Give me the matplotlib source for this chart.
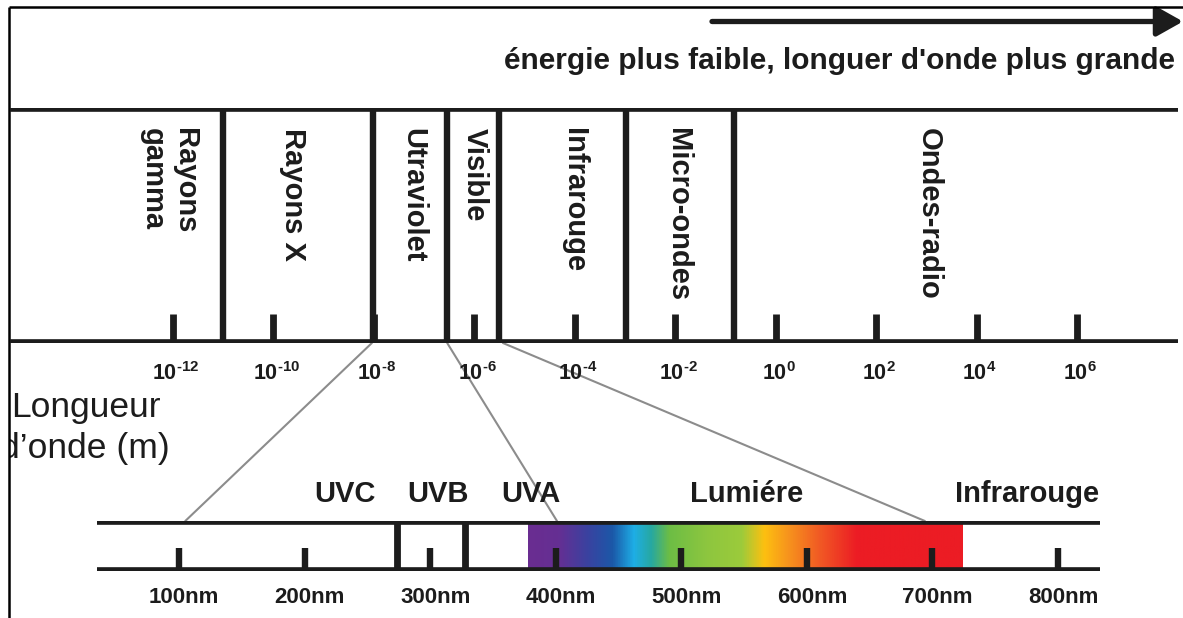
#!/usr/bin/env python3
"""Spectre electromagnetique: echelle des longueurs d'onde avec zoom sur UV / visible."""

import matplotlib
matplotlib.use("Agg")
import numpy as np
import matplotlib.pyplot as plt
import matplotlib.transforms as mtransforms
from matplotlib.colors import LinearSegmentedColormap
from matplotlib.patches import ConnectionPatch, Rectangle

# ---------------- data ----------------
# upper scale: log10 of the wavelength in metres
top_exponents = [-12, -10, -8, -6, -4, -2, 0, 2, 4, 6]
band_edges = [-11.0, -8.02, -6.54, -5.51, -2.98, -0.82]
band_names = ["Rayons\ngamma", "Rayons X", "Utraviolet", "Visible",
              "Infrarouge", "Micro-ondes", "Ondes-radio"]
band_label_pos = [-12.08, -9.61, -7.22, -5.99, -4.02, -1.94, 3.05]

# lower scale: wavelength in nm
nm_ticks = [100, 200, 300, 400, 500, 600, 700, 800]
uv_edges = [274, 328]
visible_range = (378, 724)
sub_names = ["UVC", "UVB", "UVA", "Lumiére", "Infrarouge"]
sub_label_pos = [232, 306, 380, 552, 775]

spectrum_nm = [378, 402, 425, 445, 462, 476, 490, 520, 548, 566, 585, 610, 640, 724]
spectrum_colors = ["#6a2d91", "#652f93", "#3a42a0", "#1b58a8", "#1eaee6", "#27a8a0",
                   "#6cbd45", "#8dc63f", "#9ccb3b", "#fdc010", "#f7941d", "#f15a24",
                   "#ec1c24", "#ec1c24"]

# (upper scale exponent, lower scale nm) joined by the grey zoom lines
zoom_links = [(-8.04, 105), (-6.54, 401), (-5.43, 694)]

# ---------------- layout (pixels) ----------------
W, H = 1183, 618
INK = "#1c1c1c"
LW = 5.5          # thick rules
TW = 4.6          # ticks / separators

# upper scale: line centres and tick spacing
T_X0, T_X1 = 10, 1178
T_YBOT, T_YTOP = 343, 108
T_PX12, T_PXSTEP = 173, 50.22      # pixel of 10^-12, pixels per decade

# lower scale
B_X0, B_X1 = 97, 1100
B_YBOT, B_YTOP = 571, 521
B_PX100, B_PXNM = 179, 1.2557      # pixel of 100 nm, pixels per nm

plt.rcParams["font.family"] = ["Liberation Sans", "DejaVu Sans"]
plt.rcParams["mathtext.fontset"] = "custom"
plt.rcParams["mathtext.rm"] = "Liberation Sans:bold"
plt.rcParams["mathtext.bf"] = "Liberation Sans:bold"

fig = plt.figure(figsize=(W / 100, H / 100), dpi=100)


def fig_rect(x0, x1, ytop, ybot):
    return [x0 / W, 1 - ybot / H, (x1 - x0) / W, (ybot - ytop) / H]


# page axes in pixel units for frame, arrow and free text
ax_page = fig.add_axes([0, 0, 1, 1])
ax_page.set_xlim(0, W)
ax_page.set_ylim(H, 0)
ax_page.axis("off")

# ---------------- upper scale ----------------
ax_top = fig.add_axes(fig_rect(T_X0, T_X1, T_YTOP, T_YBOT))
ax_top.set_xlim(-12 - (T_PX12 - T_X0) / T_PXSTEP, -12 + (T_X1 - T_PX12) / T_PXSTEP)
ax_top.set_ylim(0, 1)
ax_top.axis("off")
t_h = T_YBOT - T_YTOP


def top_frac(py):
    return (T_YBOT - py) / t_h


for yv in (0, 1):
    ax_top.axhline(yv, color=INK, lw=LW, solid_capstyle="butt")
ax_top.vlines(band_edges, 0, 1, color=INK, lw=TW, capstyle="butt")
ax_top.vlines(top_exponents, 0, top_frac(314), color=INK, lw=TW + 0.3, capstyle="butt")

xt = ax_top.get_xaxis_transform()
lab_tr = mtransforms.offset_copy(xt, fig=fig, x=3, y=0, units="dots")
for e in top_exponents:
    exp_txt = str(e).replace("-", r"\text{-}")
    ax_top.text(e, top_frac(380), rf"$10^{{{exp_txt}}}$", transform=lab_tr,
                ha="center", va="baseline", fontsize=15.5, color=INK)

for name, xpos in zip(band_names, band_label_pos):
    ax_top.text(xpos, top_frac(128), name, transform=xt, rotation=-90,
                ha="center", va="top", multialignment="left",
                fontsize=21, fontweight="bold", color=INK)

# ---------------- lower scale ----------------
ax_bot = fig.add_axes(fig_rect(B_X0, B_X1, B_YTOP, B_YBOT))
b_h = B_YBOT - B_YTOP


def bot_frac(py):
    return (B_YBOT - py) / b_h


pos = [(v - spectrum_nm[0]) / (spectrum_nm[-1] - spectrum_nm[0]) for v in spectrum_nm]
spec_cmap = LinearSegmentedColormap.from_list("spectre", list(zip(pos, spectrum_colors)))
grad = np.linspace(0, 1, 512).reshape(1, -1)
ax_bot.imshow(grad, extent=(visible_range[0], visible_range[1], 0, 1),
              aspect="auto", cmap=spec_cmap, zorder=0)
ax_bot.set_xlim(100 - (B_PX100 - B_X0) / B_PXNM, 100 + (B_X1 - B_PX100) / B_PXNM)
ax_bot.set_ylim(0, 1)
ax_bot.axis("off")

for yv in (0, 1):
    ax_bot.axhline(yv, color=INK, lw=LW, solid_capstyle="butt", zorder=3)
ax_bot.vlines(uv_edges, 0, 1, color=INK, lw=TW + 0.3, capstyle="butt", zorder=3)
ax_bot.vlines(nm_ticks, 0, bot_frac(548), color=INK, lw=TW, capstyle="butt", zorder=3)

xb = ax_bot.get_xaxis_transform()
nm_tr = mtransforms.offset_copy(xb, fig=fig, x=5, y=0, units="dots")
for v in nm_ticks:
    ax_bot.text(v, bot_frac(603), f"{v}nm", transform=nm_tr, ha="center",
                va="baseline", fontsize=16, fontweight="bold", color=INK)

for name, xpos in zip(sub_names, sub_label_pos):
    ax_bot.text(xpos, bot_frac(502), name, transform=xb, ha="center",
                va="baseline", fontsize=21, fontweight="bold", color=INK)

# grey zoom lines between the two scales, drawn under everything
for e, v in zoom_links:
    con = ConnectionPatch(xyA=(e, 0), coordsA=ax_top.transData,
                          xyB=(v, 1), coordsB=ax_bot.transData,
                          color="#8c8c8c", lw=1.5, zorder=-1)
    fig.add_artist(con)

# ---------------- page decoration ----------------
ax_page.annotate("", xy=(1183, 21.5), xytext=(712, 21.5),
                 arrowprops=dict(arrowstyle="-|>,head_length=0.8,head_width=0.45",
                                 mutation_scale=20, lw=3.8, color=INK,
                                 shrinkA=0, shrinkB=0))
ax_page.text(1175, 69, "énergie plus faible, longuer d'onde plus grande",
             ha="right", va="baseline", fontsize=21.5, fontweight="bold", color=INK)

ax_page.text(11, 417, "Longueur", ha="left", va="baseline", fontsize=25.5,
             color=INK, zorder=2)
ax_page.text(0, 458, "d\u2019onde (m)", ha="left", va="baseline", fontsize=25.5,
             color=INK, zorder=2)
ax_page.add_patch(Rectangle((-10, 0), 19, H, facecolor="white", edgecolor="none", zorder=3))
ax_page.plot([9, W], [7, 7], color="black", lw=1.8, zorder=4, solid_capstyle="butt")
ax_page.plot([9, 9], [7, H], color="black", lw=1.8, zorder=4, solid_capstyle="butt")

fig.savefig("out.png", dpi=100)
